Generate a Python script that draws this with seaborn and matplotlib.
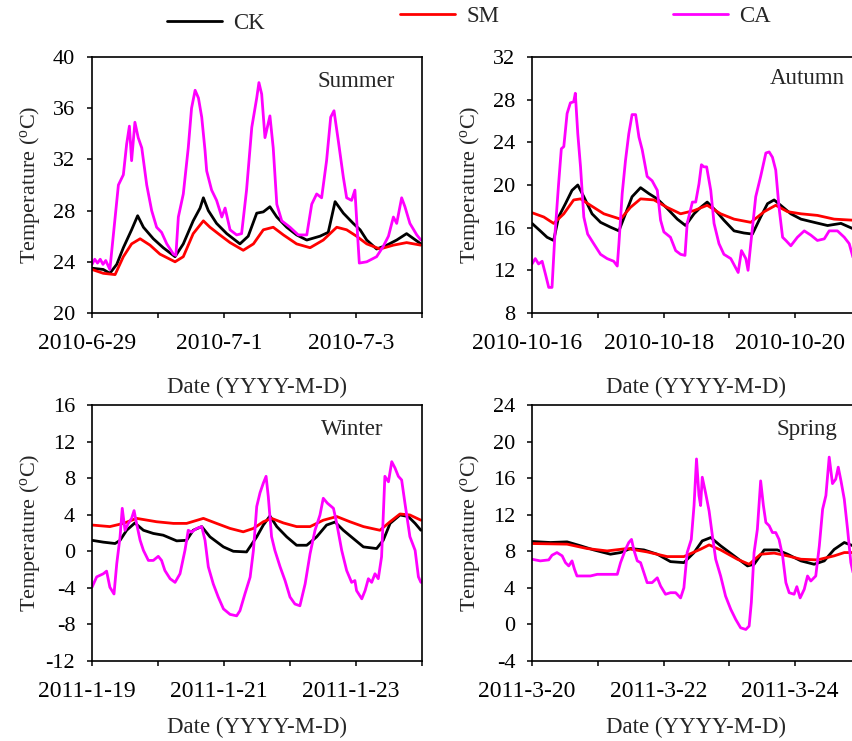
import numpy as np
import pandas as pd
import matplotlib
matplotlib.use("Agg")
import matplotlib.pyplot as plt
import matplotlib.transforms as mtransforms
import seaborn as sns

# ---------------- data (hours since start of window, temperature in degC) -------------
series_names = ["CK", "SM", "CA"]

summer_dates = ["2010-6-29", "2010-7-1", "2010-7-3"]
summer_yticks = [20, 24, 28, 32, 36, 40]
summer_ck_h = [0, 4.1, 6.5, 9.0, 11.4, 14.4, 16.6, 18.7, 22.3, 25.9, 30.2, 33.2, 36.8, 39.3, 40.5, 42.3, 45.3, 49.0, 53.8, 56.8,
               59.9, 62.3, 64.7, 67.2, 70.8, 74.4, 78.1, 82.9, 85.9, 88.4, 91.4, 95.0, 97.5, 99.9, 103.5, 107.2, 110.8, 114.4, 119.6]
summer_ck_t = [23.5, 23.4, 23.1, 23.8, 25.1, 26.5, 27.6, 26.7, 25.8, 25.1, 24.4, 25.4, 27.2, 28.2, 29.0, 28.0, 27.0, 26.2, 25.4, 26.0,
               27.8, 27.9, 28.3, 27.5, 26.7, 26.1, 25.7, 26.0, 26.3, 28.7, 27.8, 27.0, 26.5, 25.7, 25.0, 25.3, 25.7, 26.2, 25.4]
summer_sm_h = [0, 4.1, 8.4, 11.4, 14.4, 17.5, 21.1, 24.7, 30.2, 33.2, 36.8, 40.5, 42.9, 46.5, 50.2, 55.0, 58.7, 62.3, 65.9, 69.6,
               74.4, 79.3, 84.1, 89.0, 92.6, 96.2, 99.9, 104.7, 109.6, 114.4, 119.6]
summer_sm_t = [23.4, 23.1, 23.0, 24.4, 25.4, 25.8, 25.3, 24.6, 24.0, 24.4, 26.2, 27.2, 26.7, 26.1, 25.5, 24.9, 25.4, 26.5, 26.7, 26.1,
               25.4, 25.1, 25.7, 26.7, 26.5, 26.0, 25.4, 25.0, 25.3, 25.5, 25.3]
summer_ca_h = [0, 1, 2, 3, 4, 5, 6.5, 9.6, 11.4, 12.6, 13.6, 14.4, 15.6, 16.8, 18.1, 19.9, 21.7, 23.5, 25.3, 27.2,
               29.6, 30.5, 31.4, 33.2, 35.0, 36.2, 37.5, 38.7, 39.9, 41.1, 41.7, 43.5, 45.3, 47.2, 48.4, 50.2, 52.6, 54.4, 56.2, 58.1,
               59.9, 60.7, 61.7, 62.9, 64.7, 65.9, 67.2, 69.0, 72.0, 75.0, 78.1, 79.9, 81.7, 83.5, 85.3, 86.8, 88.0, 89.6, 91.4, 92.6,
               94.4, 95.6, 96.6, 97.2, 99.9, 103.5, 105.9, 107.8, 109.6, 110.8, 112.6, 113.8, 115.6, 118.1, 119.6]
summer_ca_t = [23.8, 24.2, 23.9, 24.2, 23.8, 24.1, 23.4, 30.0, 30.8, 33.2, 34.6, 31.9, 34.9, 33.7, 32.9, 30.0, 28.0, 26.7, 26.3, 25.4,
               24.6, 24.5, 27.5, 29.3, 32.9, 36.0, 37.4, 36.8, 35.3, 32.7, 31.1, 29.6, 28.8, 27.5, 28.2, 26.5, 26.1, 26.2, 29.6, 34.5,
               36.8, 38.0, 37.1, 33.7, 35.4, 32.9, 28.5, 27.2, 26.7, 26.1, 26.1, 28.5, 29.3, 29.0, 31.9, 35.3, 35.8, 33.4, 30.6, 29.0,
               28.8, 29.6, 26.0, 23.9, 24.0, 24.4, 25.2, 26.0, 27.5, 27.0, 29.0, 28.3, 27.0, 26.1, 25.7]

autumn_dates = ["2010-10-16", "2010-10-18", "2010-10-20"]
autumn_yticks = [8, 12, 16, 20, 24, 28, 32]
autumn_ck_h = [0, 3.0, 5.5, 7.9, 9.7, 12.2, 14.6, 16.7, 18.9, 21.9, 25.0, 28.6, 31.7, 34.1, 36.5, 39.6, 42.6, 45.7, 49.3, 53.0,
               56.0, 59.1, 61.5, 63.9, 67.0, 70.0, 73.7, 77.3, 80.4, 83.4, 85.9, 88.3, 90.7, 94.4, 98.1, 102.9, 107.8, 112.7, 117.1]
autumn_ck_t = [16.4, 15.7, 15.1, 14.8, 17.0, 18.25, 19.5, 20.0, 18.9, 17.3, 16.5, 16.05, 15.7, 17.3, 18.9, 19.75, 19.2, 18.7, 17.8, 16.8,
               16.2, 17.3, 17.9, 18.4, 17.6, 16.7, 15.7, 15.5, 15.4, 17.0, 18.25, 18.6, 18.1, 17.3, 16.8, 16.5, 16.2, 16.4, 15.9]
autumn_sm_h = [0, 4.3, 7.9, 11.6, 15.2, 17.7, 21.3, 26.2, 32.3, 35.9, 39.6, 44.5, 49.3, 54.2, 59.1, 63.9, 68.8, 73.7, 79.8, 84.7,
               88.9, 93.2, 98.1, 104.1, 110.2, 117.1]
autumn_sm_t = [17.4, 17.0, 16.4, 17.3, 18.6, 18.7, 18.1, 17.3, 16.8, 17.9, 18.7, 18.6, 17.9, 17.3, 17.6, 18.1, 17.3, 16.8, 16.5, 17.5,
               18.1, 17.5, 17.3, 17.15, 16.8, 16.7]
autumn_ca_h = [0, 1.2, 2.4, 3.7, 4.9, 6.1, 7.3, 8.3, 9.7, 10.7, 11.6, 12.8, 14.0, 15.2, 15.8, 16.7, 17.7, 18.9, 20.3, 22.5,
               25.0, 27.4, 29.8, 31.1, 31.7, 32.9, 34.1, 35.3, 36.5, 37.8, 39.0, 40.2, 42.0, 43.8, 45.7, 46.9, 48.1, 50.5, 52.4, 54.2,
               55.8, 56.6, 58.5, 59.7, 60.9, 61.8, 62.7, 63.7, 65.2, 66.4, 68.2, 70.0, 72.5, 75.2, 76.4, 78.0, 78.8, 79.8, 81.6, 83.4,
               85.3, 86.5, 87.7, 88.9, 90.1, 91.4, 92.6, 94.4, 96.8, 99.3, 101.7, 104.1, 106.6, 108.4, 111.4, 113.9, 115.7, 117.1]
autumn_ca_t = [12.6, 13.1, 12.6, 12.85, 11.65, 10.4, 10.4, 15.1, 20.1, 23.4, 23.6, 26.7, 27.7, 27.8, 28.6, 24.8, 21.7, 17.0, 15.4, 14.5,
               13.5, 13.1, 12.85, 12.4, 14.5, 19.2, 22.3, 24.8, 26.6, 26.6, 24.5, 23.3, 20.8, 20.4, 19.5, 16.7, 15.6, 15.1, 13.85, 13.5,
               13.4, 16.4, 18.4, 18.4, 20.1, 21.9, 21.7, 21.7, 19.5, 16.4, 14.5, 13.5, 13.1, 11.8, 13.85, 13.1, 12.0, 14.5, 18.9, 20.8,
               23.0, 23.1, 22.6, 21.4, 17.9, 15.1, 14.8, 14.3, 15.1, 15.7, 15.3, 14.8, 14.95, 15.7, 15.7, 15.1, 14.5, 13.2]

winter_dates = ["2011-1-19", "2011-1-21", "2011-1-23"]
winter_yticks = [-12, -8, -4, 0, 4, 8, 12, 16]
winter_ck_h = [0, 4.1, 8.4, 10.2, 12.6, 15.6, 18.7, 22.3, 25.9, 30.8, 34.4, 36.8, 39.9, 42.9, 47.8, 51.4, 56.2, 59.9, 62.3, 64.7,
               67.2, 70.8, 74.4, 78.1, 81.7, 85.3, 88.4, 91.4, 95.0, 98.7, 103.5, 105.9, 108.4, 112.0, 115.0, 117.5, 119.6]
winter_ck_t = [1.2, 1.0, 0.85, 1.2, 2.3, 3.1, 2.3, 1.95, 1.76, 1.14, 1.2, 2.3, 2.7, 1.58, 0.48, 0.0, -0.07, 1.58, 2.87, 3.86,
               2.7, 1.58, 0.66, 0.66, 1.58, 2.87, 3.2, 2.3, 1.4, 0.48, 0.3, 1.2, 3.05, 3.97, 3.8, 3.05, 2.3]
winter_sm_h = [0, 6.5, 11.4, 16.2, 23.5, 29.6, 34.4, 40.5, 45.3, 50.2, 55.0, 58.7, 62.3, 65.3, 69.6, 74.4, 79.3, 84.1, 89.0, 93.8,
               98.7, 104.7, 108.4, 112.0, 115.6, 119.6]
winter_sm_t = [2.87, 2.7, 3.05, 3.6, 3.23, 3.05, 3.05, 3.6, 3.05, 2.5, 2.13, 2.5, 3.23, 3.6, 3.1, 2.7, 2.7, 3.4, 3.8, 3.23,
               2.7, 2.3, 3.23, 4.08, 3.97, 3.4]
winter_ca_h = [0, 1.7, 4.1, 5.3, 6.5, 8.0, 9.0, 10.2, 11.0, 12.0, 13.2, 14.4, 15.3, 16.2, 17.5, 18.7, 20.5, 22.3, 24.1, 25.3,
               26.5, 28.4, 30.2, 32.0, 33.8, 35.0, 36.2, 38.1, 39.9, 41.1, 42.3, 44.1, 45.9, 47.8, 50.2, 52.6, 53.8, 55.6, 57.5, 58.7,
               59.9, 61.1, 62.3, 63.3, 64.1, 65.3, 66.5, 68.4, 70.2, 72.0, 73.8, 75.6, 77.5, 79.3, 81.1, 82.9, 84.1, 85.6, 87.8, 89.0,
               90.8, 92.6, 94.4, 95.6, 96.2, 98.1, 99.3, 100.5, 101.7, 102.9, 104.1, 105.3, 106.5, 107.8, 109.0, 110.2, 111.4, 112.6,
               113.8, 115.6, 117.5, 118.7, 119.6]
winter_ca_t = [-3.93, -2.8, -2.46, -2.17, -3.93, -4.67, -1.36, 1.58, 4.7, 2.3, 3.05, 3.6, 4.45, 3.05, 1.2, 0.1, -1.0, -1.0, -0.55, -1.0,
               -2.1, -3.0, -3.4, -2.46, 0.1, 2.3, 2.1, 2.5, 2.7, 1.2, -1.7, -3.57, -5.0, -6.3, -6.9, -7.06, -6.5, -4.67, -2.83, 0.1,
               4.9, 6.4, 7.46, 8.2, 6.0, 1.6, 0.1, -1.7, -3.2, -5.0, -5.77, -5.96, -3.57, -0.26, 2.3, 3.97, 5.8, 5.26, 4.7, 3.05,
               0.1, -2.1, -3.4, -3.2, -4.3, -5.2, -4.3, -3.0, -3.4, -2.46, -3.0, -0.6, 8.2, 7.6, 9.8, 9.1, 8.2, 7.8,
               5.26, 1.6, 0.1, -2.8, -3.4]

spring_dates = ["2011-3-20", "2011-3-22", "2011-3-24"]
spring_yticks = [-4, 0, 4, 8, 12, 16, 20, 24]
spring_ck_h = [0, 6.7, 12.8, 17.7, 22.5, 28.6, 32.3, 35.9, 40.8, 45.7, 50.5, 55.4, 59.1, 62.1, 65.2, 68.8, 73.7, 78.6, 81.0, 84.7,
               89.5, 93.2, 98.1, 102.9, 106.6, 110.2, 113.9, 117.1]
spring_ck_t = [9.07, 8.96, 9.03, 8.6, 8.15, 7.68, 7.86, 8.3, 8.15, 7.68, 6.87, 6.76, 7.86, 9.14, 9.5, 8.6, 7.5, 6.4, 6.58, 8.15,
               8.15, 7.68, 6.95, 6.58, 6.95, 8.2, 8.96, 8.6]
spring_sm_h = [0, 12.8, 20.1, 27.4, 34.7, 42.0, 49.3, 55.4, 61.5, 64.6, 68.8, 74.9, 79.2, 83.4, 88.3, 93.2, 98.1, 104.1, 110.2, 113.9,
               117.1]
spring_sm_t = [8.85, 8.78, 8.3, 8.04, 8.3, 7.93, 7.42, 7.42, 8.23, 8.7, 8.15, 7.13, 6.58, 7.68, 7.8, 7.5, 7.13, 7.06, 7.5, 7.86,
               7.86]
spring_ca_h = [0, 3.0, 6.1, 7.3, 9.1, 11.0, 12.2, 13.4, 14.6, 15.5, 16.4, 18.9, 21.3, 23.8, 27.4, 31.1, 32.3, 34.1, 35.3, 36.3,
               37.1, 38.4, 39.6, 40.8, 42.0, 43.8, 45.7, 46.9, 48.7, 50.5, 52.4, 54.2, 55.4, 56.6, 58.1, 59.1, 60.0, 60.9, 61.5, 62.1,
               63.3, 64.6, 65.8, 67.0, 68.8, 70.6, 72.5, 74.3, 76.1, 78.0, 79.2, 80.0, 81.0, 82.2, 83.4, 84.4, 85.3, 86.5, 87.7, 88.9,
               90.1, 91.4, 92.6, 93.8, 95.6, 96.6, 97.8, 99.3, 100.5, 101.7, 103.5, 104.8, 106.0, 107.2, 108.4, 109.6, 110.8, 111.7,
               112.7, 113.9, 115.1, 116.3, 117.1]
spring_ca_t = [7.13, 6.95, 7.06, 7.57, 7.86, 7.5, 6.76, 6.4, 6.95, 6.03, 5.3, 5.3, 5.3, 5.48, 5.48, 5.48, 6.76, 8.2, 8.96, 9.3,
               8.2, 6.95, 6.76, 5.67, 4.57, 4.57, 5.1, 4.2, 3.3, 3.47, 3.47, 2.9, 4.0, 7.86, 9.3, 13.0, 18.1, 14.1, 13.0, 16.1,
               14.4, 12.4, 9.7, 7.13, 5.3, 3.1, 1.65, 0.55, -0.37, -0.55, -0.18, 2.4, 7.86, 10.4, 15.7, 13.0, 11.15, 10.8, 10.05, 10.05,
               9.3, 7.5, 4.57, 3.47, 3.3, 4.13, 2.9, 3.84, 5.3, 4.75, 5.3, 8.6, 12.6, 14.1, 18.3, 15.4, 15.9, 17.2,
               15.7, 13.7, 10.4, 6.76, 5.67]

# ---------------- style -------------
sns.set_style("ticks")
plt.rcParams['font.family'] = ['Liberation Serif', 'DejaVu Serif']
plt.rcParams['mathtext.fontset'] = 'custom'
plt.rcParams['mathtext.rm'] = 'Liberation Serif'
plt.rcParams['mathtext.it'] = 'Liberation Serif:italic'
plt.rcParams['axes.unicode_minus'] = False

colors = {"CK": "#000000", "SM": "#ff0000", "CA": "#ff00ff"}
FS = 16.5

W, H = 852, 741
fig = plt.figure(figsize=(W / 100, H / 100), dpi=100)


def rect(l, t, r, b):
    return [l / W, 1 - b / H, (r - l) / W, (b - t) / H]


panels = [
    dict(name="Summer", rect=rect(92, 57, 422, 313), dates=summer_dates, yticks=summer_yticks,
         data={"CK": (summer_ck_h, summer_ck_t), "SM": (summer_sm_h, summer_sm_t), "CA": (summer_ca_h, summer_ca_t)},
         lab=(0.80, 0.905), xlab_y=-0.25),
    dict(name="Autumn", rect=rect(532, 57, 861, 313), dates=autumn_dates, yticks=autumn_yticks,
         data={"CK": (autumn_ck_h, autumn_ck_t), "SM": (autumn_sm_h, autumn_sm_t), "CA": (autumn_ca_h, autumn_ca_t)},
         lab=(0.837, 0.915), xlab_y=-0.25),
    dict(name="Winter", rect=rect(92, 405, 422, 661), dates=winter_dates, yticks=winter_yticks,
         data={"CK": (winter_ck_h, winter_ck_t), "SM": (winter_sm_h, winter_sm_t), "CA": (winter_ca_h, winter_ca_t)},
         lab=(0.79, 0.905), xlab_y=-0.22),
    dict(name="Spring", rect=rect(532, 405, 861, 661), dates=spring_dates, yticks=spring_yticks,
         data={"CK": (spring_ck_h, spring_ck_t), "SM": (spring_sm_h, spring_sm_t), "CA": (spring_ca_h, spring_ca_t)},
         lab=(0.837, 0.905), xlab_y=-0.22),
]

shift_left = mtransforms.ScaledTranslation(-5 / 100, 0, fig.dpi_scale_trans)

handles = {}
for i, p in enumerate(panels):
    ax = fig.add_axes(p["rect"])
    for s in series_names:
        h, t = p["data"][s]
        sns.lineplot(x=np.asarray(h, float), y=np.asarray(t, float), ax=ax, color=colors[s],
                     linewidth=2.0, label=s, estimator=None, sort=False)
    hl, ll = ax.get_legend_handles_labels()
    for hh, lab in zip(hl, ll):
        handles.setdefault(lab, hh)
    if ax.get_legend() is not None:
        ax.get_legend().remove()
    ax.set_xlim(0, 120)
    ax.set_ylim(p["yticks"][0], p["yticks"][-1])
    ax.set_yticks(p["yticks"])
    ax.set_xticks([0, 24, 48, 72, 96, 120])
    ax.set_xticklabels([p["dates"][0], "", p["dates"][1], "", p["dates"][2], ""])
    ax.tick_params(axis="both", direction="out", length=3.6, width=1.1, colors="black")
    ax.tick_params(axis="x", labelsize=17, pad=10.5)
    ax.tick_params(axis="y", labelsize=16, pad=8.5)
    for lbl in ax.get_xticklabels():
        lbl.set_transform(lbl.get_transform() + shift_left)
    for sp in ax.spines.values():
        sp.set_visible(True)
        sp.set_linewidth(1.2)
        sp.set_color("black")
    ax.set_xlabel("Date (YYYY-M-D)", fontsize=FS)
    ax.set_ylabel(r"Temperature ($^{\mathrm{o}}$C)", fontsize=16)
    ax.xaxis.set_label_coords(0.5, p["xlab_y"])
    ax.yaxis.set_label_coords(-0.153, 0.5)
    ax.text(p["lab"][0], p["lab"][1], p["name"], transform=ax.transAxes, ha="center", va="center", fontsize=FS)

leg_pos = {"CK": (167, 23), "SM": (400, 16), "CA": (673, 16)}
for s in series_names:
    x, y = leg_pos[s]
    fig.legend(handles=[handles[s]], labels=[s], loc="center left", bbox_to_anchor=(x / W, 1 - y / H),
               frameon=False, fontsize=16.5, borderpad=0, borderaxespad=0, handlelength=2.4, handletextpad=0.48)

fig.savefig("out.png", dpi=100)
